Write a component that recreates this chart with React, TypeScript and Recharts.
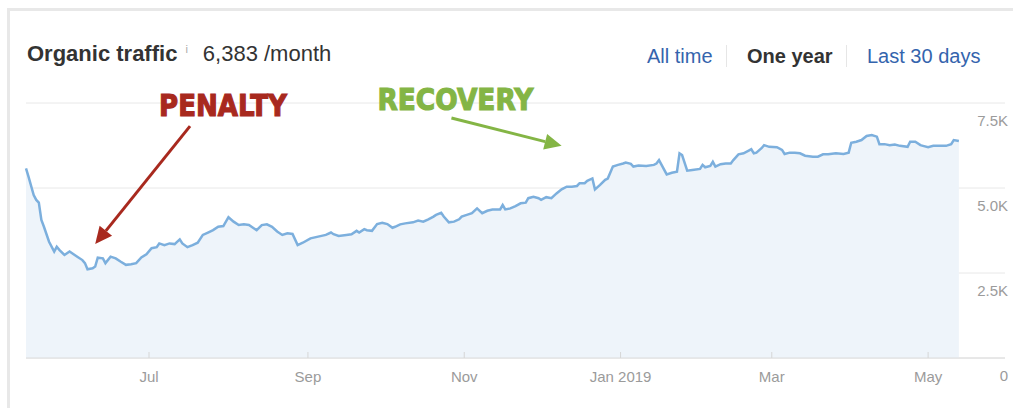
import { AreaChart, Area, XAxis, YAxis, CartesianGrid, ReferenceLine } from 'recharts';

// daily organic traffic, one year starting mid May 2018
const startDate = '2018-05-14';
const dayOffsets = [
  0, 1, 3, 4, 5, 6, 7, 9, 11, 12, 13, 15, 17, 18, 20, 22, 23, 24, 26, 27, 28, 30, 31, 33, 35, 37, 39, 41, 43, 45,
  47, 49, 51, 52, 54, 56, 58, 60, 61, 63, 65, 67, 69, 71, 73, 75, 77, 79, 81, 83, 85, 87, 89, 90, 92, 94, 96, 98,
  100, 102, 104, 106, 108, 111, 114, 117, 119, 120, 122, 125, 127, 129, 130, 132, 133, 135, 137, 139, 141, 143,
  144, 146, 148, 151, 153, 155, 157, 159, 160, 162, 163, 165, 167, 169, 170, 172, 174, 176, 178, 180, 182, 185,
  186, 187, 189, 191, 193, 195, 196, 198, 200, 201, 203, 205, 207, 209, 211, 213, 215, 216, 218, 219, 221, 222,
  224, 226, 227, 229, 231, 233, 234, 236, 237, 239, 242, 245, 246, 247, 248, 250, 252, 254, 255, 256, 258, 260,
  263, 264, 265, 267, 268, 269, 271, 273, 275, 276, 278, 280, 282, 283, 284, 285, 287, 288, 290, 293, 295, 296,
  298, 300, 302, 304, 307, 309, 311, 313, 316, 319, 321, 322, 324, 326, 328, 330, 332, 333, 335, 337, 339, 341,
  344, 345, 347, 349, 350, 352, 354, 357, 359, 361, 362, 364,
];
const traffic = [
  5580, 5330, 4790, 4650, 4570, 4060, 3860, 3420, 3130, 3270, 3180, 3030, 3130, 3080, 2980, 2880, 2790, 2610, 2640,
  2690, 2950, 2930, 2790, 2980, 2930, 2830, 2740, 2760, 2790, 2960, 3050, 3230, 3260, 3370, 3320, 3370, 3350, 3490,
  3370, 3260, 3320, 3390, 3620, 3690, 3760, 3860, 3880, 4140, 4010, 3910, 3930, 3910, 3810, 3760, 3910, 3930, 3860,
  3720, 3620, 3670, 3650, 3320, 3390, 3520, 3570, 3620, 3690, 3640, 3590, 3620, 3640, 3740, 3690, 3790, 3760, 3740,
  3940, 3980, 3940, 3830, 3860, 3930, 3960, 3990, 4040, 4010, 4080, 4160, 4210, 4270, 4160, 3990, 4010, 4080, 4160,
  4210, 4260, 4400, 4260, 4330, 4370, 4370, 4500, 4370, 4400, 4470, 4550, 4570, 4700, 4740, 4700, 4650, 4730, 4700,
  4840, 4960, 5040, 5040, 5060, 5140, 5140, 5210, 5280, 4960, 5090, 5240, 5280, 5630, 5680, 5720, 5750, 5710, 5630,
  5660, 5650, 5680, 5720, 5820, 5680, 5400, 5450, 5480, 6020, 5970, 5510, 5530, 5560, 5680, 5610, 5650, 5770, 5630,
  5700, 5720, 5720, 5820, 5990, 6020, 6100, 6140, 6020, 6040, 6170, 6260, 6210, 6200, 6120, 6000, 6040, 6040, 6020,
  5950, 5920, 5920, 5990, 5990, 6020, 6000, 6040, 6330, 6360, 6410, 6530, 6560, 6510, 6290, 6290, 6260, 6280, 6240,
  6210, 6360, 6360, 6260, 6240, 6200, 6240, 6240, 6240, 6290, 6410, 6383,
];

const monthTickDates = ['2018-07-01', '2018-09-01', '2018-11-01', '2019-01-01', '2019-03-01', '2019-05-01'];
const monthTickLabels = ['Jul', 'Sep', 'Nov', 'Jan 2019', 'Mar', 'May'];
const trafficTicks = [0, 2500, 5000, 7500];
const trafficTickLabels = ['0', '2.5K', '5.0K', '7.5K'];
const ranges = ['All time', 'One year', 'Last 30 days'];

const FONT = '"Liberation Sans", Arial, Helvetica, sans-serif';
const DAY = 86400000;
const dayOf = (d: string) => Math.round((Date.parse(d) - Date.parse(startDate)) / DAY);
const monthTicks = monthTickDates.map(dayOf);
const chartData = dayOffsets.map((day, i) => ({ day, traffic: traffic[i] }));

function XTick({ x, y, payload }: any) {
  const label = monthTickLabels[monthTicks.indexOf(payload.value)];
  return (
    <g>
      <line x1={x} y1={y - 6} x2={x} y2={y} stroke="#d6d6d6" />
      <text x={x} y={y + 24} textAnchor="middle" fontSize={15} fill="#9b9b9b" fontFamily={FONT}>
        {label}
      </text>
    </g>
  );
}

function YTick({ x, y, payload }: any) {
  const label = trafficTickLabels[trafficTicks.indexOf(payload.value)];
  return (
    <text x={x + 3} y={y + 23} textAnchor="end" fontSize={15} fill="#9b9b9b" fontFamily={FONT}>
      {label}
    </text>
  );
}

function arrowShape(color: string, label: string, dx: number, dy: number, textWidth: number) {
  return (props: any) => {
    const { x1, y1, x2, y2 } = props;
    const ang = Math.atan2(y2 - y1, x2 - x1);
    const len = 17;
    const half = 8;
    const bx = x2 - len * Math.cos(ang);
    const by = y2 - len * Math.sin(ang);
    const px = -Math.sin(ang) * half;
    const py = Math.cos(ang) * half;
    return (
      <g>
        <line x1={x1} y1={y1} x2={bx} y2={by} stroke={color} strokeWidth={3} />
        <polygon points={`${x2},${y2} ${bx + px},${by + py} ${bx - px},${by - py}`} fill={color} />
        <text
          x={x1 + dx}
          y={y1 + dy}
          textAnchor="middle"
          fontSize={30}
          fontWeight={700}
          fill={color}
          stroke={color}
          strokeWidth={1.2}
          fontFamily='"DejaVu Sans", sans-serif'
          textLength={textWidth}
          lengthAdjust="spacingAndGlyphs"
        >
          {label}
        </text>
      </g>
    );
  };
}

export default function App() {
  return (
    <div style={{ position: 'relative', width: 1013, height: 408, overflow: 'hidden', background: '#fff', fontFamily: FONT }}>
      <style>{'body{margin:0}'}</style>
      <div
        style={{
          position: 'absolute',
          left: 7,
          top: 8,
          width: 1100,
          height: 500,
          border: '3px solid #e8e8e8',
        }}
      />
      <div style={{ position: 'absolute', left: 27, top: 41, lineHeight: '26px', fontSize: 22, color: '#333', whiteSpace: 'nowrap' }}>
        <span style={{ fontWeight: 700 }}>Organic traffic</span>
        <span style={{ fontSize: 11, color: '#aaa', verticalAlign: 'top', marginLeft: 8, lineHeight: '16px' }}>i</span>
        <span style={{ marginLeft: 15 }}>6,383 /month</span>
      </div>
      {ranges.map((r, i) => (
        <div
          key={r}
          style={{
            position: 'absolute',
            left: [647, 747, 867][i],
            top: 44,
            fontSize: 20,
            lineHeight: '24px',
            whiteSpace: 'nowrap',
            color: i === 1 ? '#333' : '#3464ad',
            fontWeight: i === 1 ? 700 : 400,
          }}
        >
          {r}
        </div>
      ))}
      {[726, 846].map((x) => (
        <div key={x} style={{ position: 'absolute', left: x, top: 45, width: 1, height: 22, background: '#e6e6e6' }} />
      ))}
      <div style={{ position: 'absolute', left: 0, top: 0 }}>
        <AreaChart width={1013} height={408} data={chartData} margin={{ top: 103, right: 0, bottom: 20, left: 26 }}>
          <CartesianGrid vertical={false} stroke="#e8e8e8" />
          <XAxis
            dataKey="day"
            type="number"
            domain={[0, 382]}
            ticks={monthTicks}
            tick={<XTick />}
            tickSize={0}
            tickMargin={0}
            tickLine={false}
            axisLine={{ stroke: '#dcdcdc' }}
            height={30}
            interval={0}
          />
          <YAxis
            orientation="right"
            domain={[0, 7500]}
            ticks={trafficTicks}
            tick={<YTick />}
            tickSize={0}
            tickMargin={0}
            tickLine={false}
            axisLine={false}
            width={8}
            interval={0}
          />
          <Area
            type="linear"
            dataKey="traffic"
            stroke="#7cafdd"
            strokeWidth={2.5}
            fill="#eef4fa"
            fillOpacity={1}
            dot={false}
            activeDot={false}
            isAnimationActive={false}
          />
          <ReferenceLine
            segment={[
              { x: 64, y: 6820 },
              { x: 27, y: 3350 },
            ]}
            shape={arrowShape('#a8291e', 'PENALTY', 33, -10, 128)}
          />
          <ReferenceLine
            segment={[
              { x: 166, y: 7060 },
              { x: 209, y: 6240 },
            ]}
            shape={arrowShape('#84b545', 'RECOVERY', 4, -8, 156)}
          />
        </AreaChart>
      </div>
    </div>
  );
}
